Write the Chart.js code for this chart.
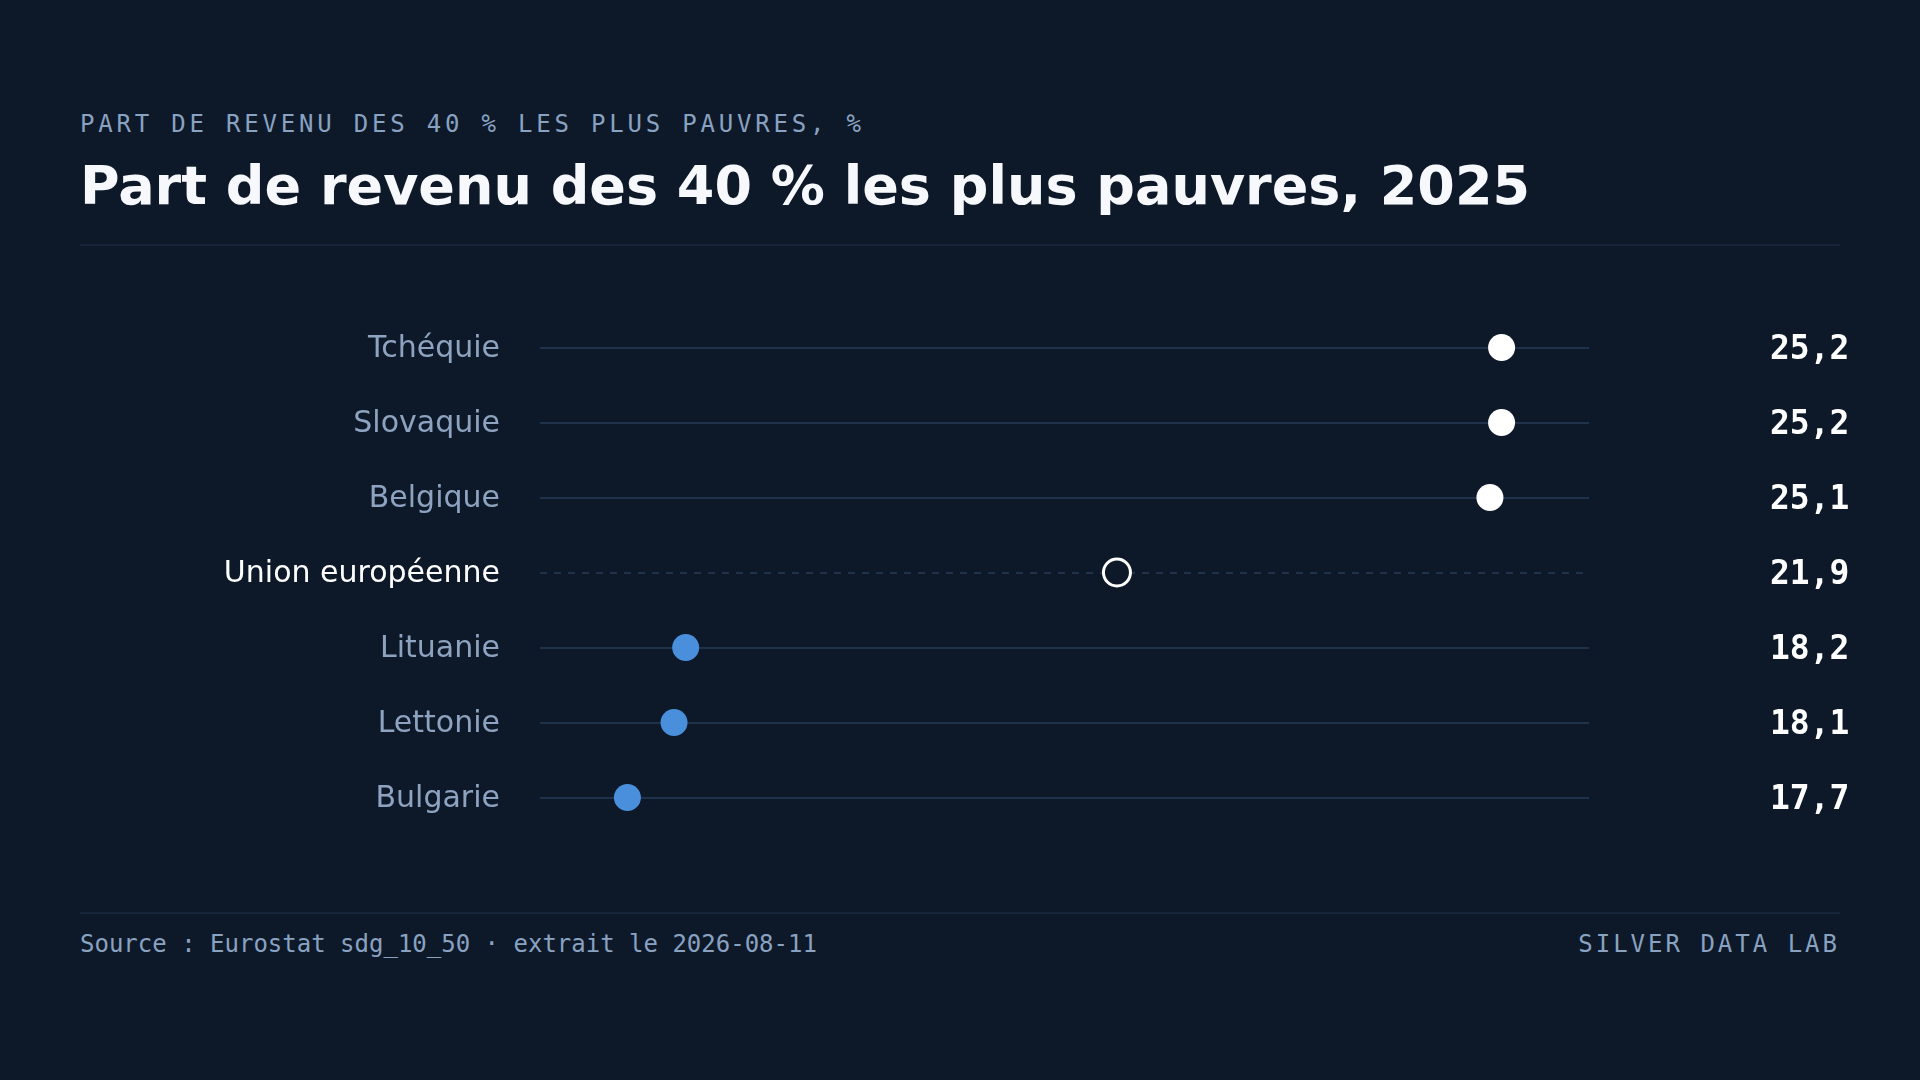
<!DOCTYPE html>
<html lang="fr">
<head>
<meta charset="utf-8">
<title>Part de revenu des 40 % les plus pauvres, 2025</title>
<script src="https://cdn.jsdelivr.net/npm/chart.js@4.4.1/dist/chart.umd.min.js"></script>
<style>
  html, body { margin: 0; padding: 0; }
  body {
    width: 1920px; height: 1080px; overflow: hidden; position: relative;
    background: #0d1929;
    font-family: "DejaVu Sans", sans-serif;
  }
  .kicker {
    position: absolute; left: 80px; top: 112px;
    font: 24px/24px "DejaVu Sans Mono", monospace;
    letter-spacing: 3.8px; color: #8aa2c1; white-space: nowrap;
  }
  .title {
    position: absolute; left: 80px; top: 159px;
    font: bold 54px/54px "DejaVu Sans", sans-serif;
    color: #f6f8fb; white-space: nowrap;
  }
  .rule { position: absolute; left: 80px; width: 1760px; height: 2px; background: #17253a; }
  .foot {
    position: absolute; top: 932px;
    font: 24px/24px "DejaVu Sans Mono", monospace;
    color: #8aa2c1; white-space: nowrap;
  }
  #wrap { position: absolute; left: 80px; top: 310px; width: 1780px; height: 525px; }
</style>
</head>
<body>
  <div class="kicker">PART DE REVENU DES 40 % LES PLUS PAUVRES, %</div>
  <div class="title">Part de revenu des 40 % les plus pauvres, 2025</div>
  <div class="rule" style="top:244px"></div>
  <div id="wrap"><canvas id="chart"></canvas></div>
  <div class="rule" style="top:912px"></div>
  <div class="foot" style="left:80px">Source : Eurostat sdg_10_50 · extrait le 2026-08-11</div>
  <div class="foot" style="right:80px; letter-spacing:3px">SILVER DATA LAB</div>

<script>
// Part de revenu des 40 % les plus pauvres (%), 2025
const countries = ['Tchéquie', 'Slovaquie', 'Belgique', 'Union européenne', 'Lituanie', 'Lettonie', 'Bulgarie'];
const shares = [25.2, 25.2, 25.1, 21.9, 18.2, 18.1, 17.7];
const referenceLabel = 'Union européenne';

const BG = '#0d1929';
const TRACK = '#1f324b';
const BLUE = '#4a8fdb';
const WHITE = '#ffffff';
const LABEL = '#8ea3c0';

const refIndex = countries.indexOf(referenceLabel);
const refValue = shares[refIndex];
const valueLabels = shares.map(v => v.toFixed(1).replace('.', ','));

// 10 % margin on each side of the data range
const spread = Math.max(...shares) - Math.min(...shares);
const xMin = Math.min(...shares) - spread * 0.1;
const xMax = Math.max(...shares) + spread * 0.1;

const fillColors = shares.map((v, i) => i === refIndex ? BG : (v > refValue ? WHITE : BLUE));
const strokeColors = shares.map((v, i) => i === refIndex ? WHITE : fillColors[i]);
const strokeWidths = shares.map((v, i) => i === refIndex ? 3 : 0);

// one track per row, dashed for the reference row
const tracks = {
  id: 'tracks',
  beforeDatasetsDraw(chart) {
    const { ctx, chartArea, scales: { y } } = chart;
    ctx.save();
    ctx.lineWidth = 2;
    ctx.strokeStyle = TRACK;
    countries.forEach((c, i) => {
      const py = Math.round(y.getPixelForValue(i));
      ctx.setLineDash(i === refIndex ? [7, 7] : []);
      ctx.beginPath();
      ctx.moveTo(chartArea.left, py);
      ctx.lineTo(chartArea.right, py);
      ctx.stroke();
    });
    ctx.restore();
  }
};

// fixed axis widths, and no tick padding leaking into the plot height
const fixAxis = width => s => {
  s.width = width;
  s.paddingTop = 0;
  s.paddingBottom = 0;
};

new Chart(document.getElementById('chart'), {
  type: 'line',
  data: {
    labels: countries,
    datasets: [{
      data: shares.map((v, i) => ({ x: v, y: countries[i] })),
      showLine: false,
      pointRadius: 13.5,
      pointHoverRadius: 13.5,
      pointBackgroundColor: fillColors,
      pointBorderColor: strokeColors,
      pointBorderWidth: strokeWidths,
      pointHoverBorderWidth: strokeWidths
    }]
  },
  options: {
    responsive: true,
    maintainAspectRatio: false,
    animation: false,
    layout: { padding: 0, autoPadding: false },
    scales: {
      x: { type: 'linear', min: xMin, max: xMax, display: false },
      y: {
        type: 'category',
        labels: countries,
        position: 'left',
        offset: true,
        grid: { display: false, drawTicks: false },
        border: { display: false },
        ticks: {
          autoSkip: false,
          padding: 40,
          labelOffset: 2,
          color: ctx => ctx.index === refIndex ? WHITE : LABEL,
          font: { family: 'DejaVu Sans', size: 30 }
        },
        afterFit: fixAxis(460)
      },
      y2: {
        type: 'category',
        labels: countries,
        position: 'right',
        offset: true,
        grid: { display: false, drawTicks: false },
        border: { display: false },
        ticks: {
          autoSkip: false,
          padding: 181,
          labelOffset: 3,
          color: WHITE,
          font: { family: 'DejaVu Sans Mono', size: 33, weight: 'bold' },
          callback: (value, index) => valueLabels[index]
        },
        afterFit: fixAxis(271)
      }
    },
    plugins: {
      legend: { display: false },
      tooltip: { enabled: false }
    }
  },
  plugins: [tracks]
});
</script>
</body>
</html>
